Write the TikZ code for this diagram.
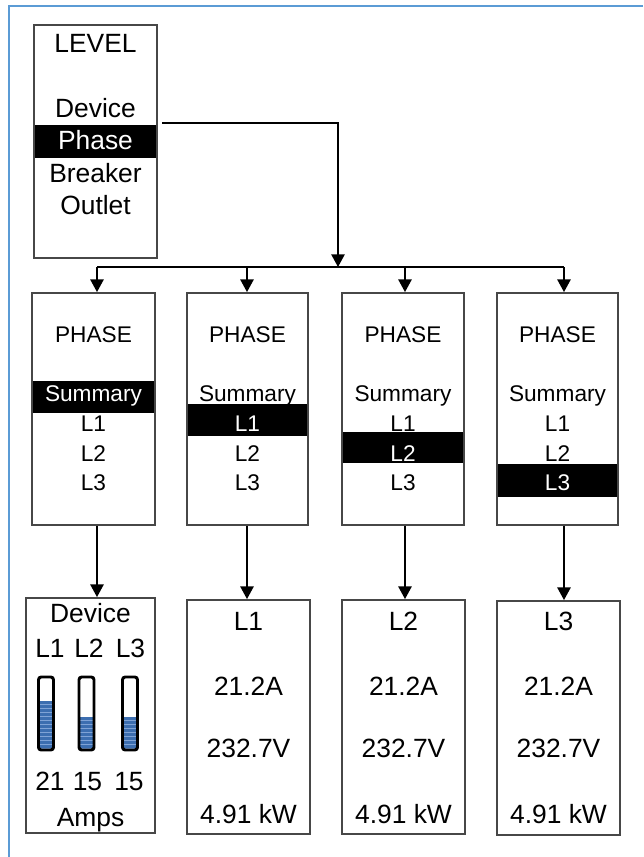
\documentclass[tikz,border=0pt]{standalone}
\usepackage{fontspec}
\setmainfont{Liberation Sans}
\usetikzlibrary{fit,arrows.meta}
\definecolor{frameblue}{HTML}{5B9BD5}
\definecolor{barblue}{HTML}{3C6EB0}
\definecolor{stripeblue}{HTML}{7FA3D6}
\begin{document}
\begin{tikzpicture}[x=0.75pt,y=-0.75pt,
  box/.style={draw=black!72, line width=1.4pt, inner sep=0pt},
  sel/.style={fill=black, inner sep=0pt},
  big/.style={font=\fontsize{19.8}{22}\selectfont, inner sep=0pt, anchor=base},
  sm/.style={font=\fontsize{17}{19}\selectfont, inner sep=0pt, anchor=base},
  arr/.style={line width=1.2pt, -{Triangle[length=9.5pt,width=10pt]}},
  wire/.style={line width=1.2pt},
  meter/.style={draw=black, line width=2.2pt, rounded corners=2pt}
]
\useasboundingbox (0,0) rectangle (643,857);
\draw[frameblue, line width=1.9pt] (9,857) -- (9,6) -- (643,6);

% LEVEL box
\node[sel, fit={(34,125) (157,158)}] (phsel) {};
\node[box, fit={(34,25) (157,258)}] (level) {};
\node[big] (tlevel) at (95.5,52) {LEVEL};
\node[big] (tdevice) at (95.5,117) {Device};
\node[big, text=white] (tphase) at (95.5,149) {Phase};
\node[big] (tbreaker) at (95.5,182) {Breaker};
\node[big] (toutlet) at (95.5,214) {Outlet};

% selection bars in phase boxes
\node[sel, fit={(32,381) (155,413)}] (s1) {};
\node[sel, fit={(187,404) (308,436)}] (s2) {};
\node[sel, fit={(342,432) (464,463)}] (s3) {};
\node[sel, fit={(497,464) (618,497)}] (s4) {};

% phase boxes
\node[box, fit={(32,293) (155,525)}] (p1) {};
\node[box, fit={(187,293) (308,525)}] (p2) {};
\node[box, fit={(342,293) (464,525)}] (p3) {};
\node[box, fit={(497,293) (618,525)}] (p4) {};

\node[sm] (h1) at (93.5,342) {PHASE};
\node[sm, text=white] (a1) at (93.5,401) {Summary};
\node[sm] (b1) at (93.5,431) {L1};
\node[sm] (c1) at (93.5,461) {L2};
\node[sm] (e1) at (93.5,490) {L3};

\node[sm] (h2) at (247.5,342) {PHASE};
\node[sm] (a2) at (247.5,401) {Summary};
\node[sm, text=white] (b2) at (247.5,431) {L1};
\node[sm] (c2) at (247.5,461) {L2};
\node[sm] (e2) at (247.5,490) {L3};

\node[sm] (h3) at (403,342) {PHASE};
\node[sm] (a3) at (403,401) {Summary};
\node[sm] (b3) at (403,431) {L1};
\node[sm, text=white] (c3) at (403,461) {L2};
\node[sm] (e3) at (403,490) {L3};

\node[sm] (h4) at (557.5,342) {PHASE};
\node[sm] (a4) at (557.5,401) {Summary};
\node[sm] (b4) at (557.5,431) {L1};
\node[sm] (c4) at (557.5,461) {L2};
\node[sm, text=white] (e4) at (557.5,490) {L3};

% bottom boxes
\node[box, fit={(26,598) (155,833)}] (d1) {};
\node[box, fit={(187,600) (310,834)}] (d2) {};
\node[box, fit={(342,600) (465,834)}] (d3) {};
\node[box, fit={(497,601) (620,835)}] (d4) {};

\node[big] (dev) at (90.5,622) {Device};
\node[big] (dl1) at (50,657) {L1};
\node[big] (dl2) at (89,657) {L2};
\node[big] (dl3) at (130.5,657) {L3};
\node[big] (dn1) at (50,790) {21};
\node[big] (dn2) at (87.5,790) {15};
\node[big] (dn3) at (129,790) {15};
\node[big] (amps) at (90.5,826) {Amps};

\foreach \cx/\fy in {46/701, 86.5/717, 130/717}{
  \fill[barblue] (\cx-7.5,\fy) rectangle (\cx+7.5,750);
  \begin{scope}
    \clip (\cx-7.5,\fy) rectangle (\cx+7.5,750);
    \foreach \s in {704,708,...,748}
      \draw[stripeblue, line width=0.7pt] (\cx-6.5,\s) -- (\cx+6.5,\s);
  \end{scope}
  \draw[meter] (\cx-7.5,677) rectangle (\cx+7.5,750);
}

\foreach \n/\cx/\lab in {2/248.5/L1, 3/403.5/L2, 4/558.5/L3}{
  \node[big] (q\n) at (\cx,630) {\lab};
  \node[big] (i\n) at (\cx,695) {21.2A};
  \node[big] (v\n) at (\cx,757) {232.7V};
  \node[big] (w\n) at (\cx,823) {4.91 kW};
}

% connectors
\coordinate (bus) at (338,267);
\coordinate (bA) at (97,267);
\coordinate (bB) at (247,267);
\coordinate (bC) at (405,267);
\coordinate (bD) at (564,267);
\draw[arr] ([shift={(5,-2)}]phsel.north east) -| (bus);
\draw[wire] (bA) -- (bD);
\draw[arr] (bA) -- (bA |- p1.north);
\draw[arr] (bB) -- (bB |- p2.north);
\draw[arr] (bC) -- (bC |- p3.north);
\draw[arr] (bD) -- (bD |- p4.north);

\draw[arr] (p1.south -| bA) -- (d1.north -| bA);
\draw[arr] (p2.south -| bB) -- (d2.north -| bB);
\draw[arr] (p3.south -| bC) -- (d3.north -| bC);
\draw[arr] (p4.south -| bD) -- (d4.north -| bD);
\end{tikzpicture}
\end{document}
